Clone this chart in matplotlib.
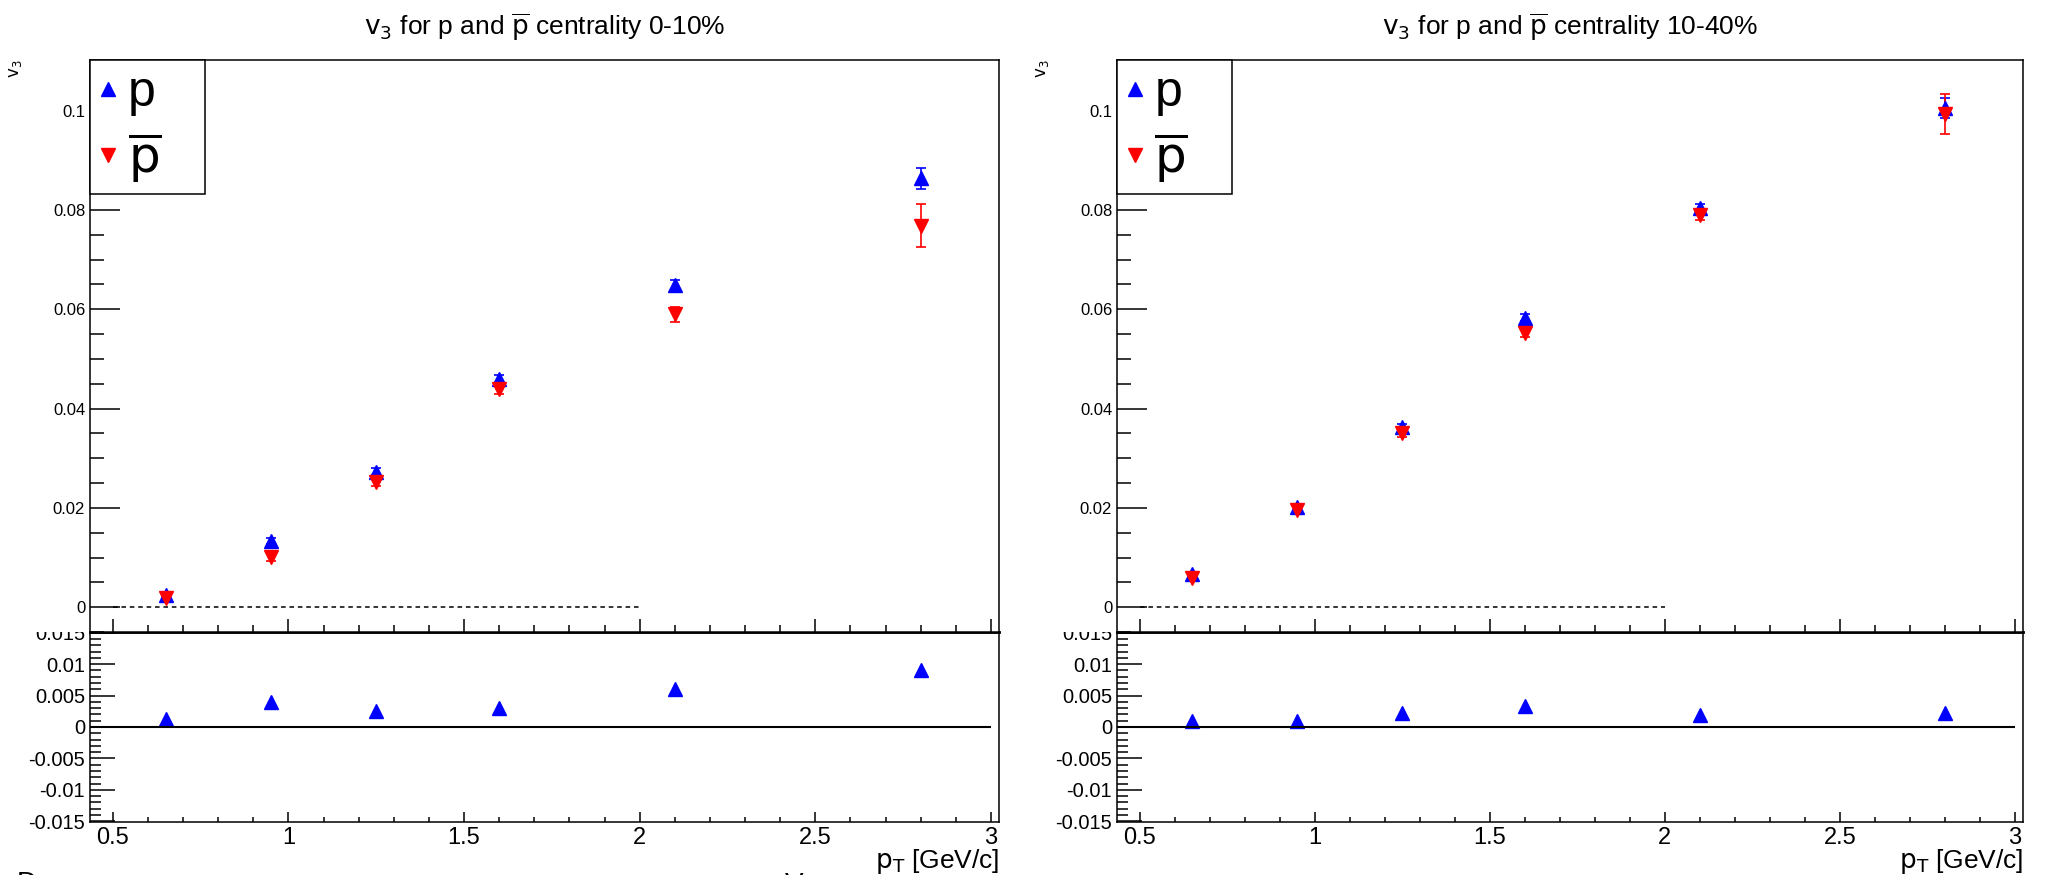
import matplotlib
matplotlib.use("Agg")
import matplotlib.pyplot as plt
from matplotlib.patches import Rectangle
from matplotlib.ticker import MultipleLocator, FuncFormatter

plt.rcParams['font.family'] = ['Liberation Sans Narrow', 'Liberation Sans', 'DejaVu Sans']
plt.rcParams['mathtext.fontset'] = 'custom'
plt.rcParams['mathtext.rm'] = 'Liberation Sans Narrow'
plt.rcParams['mathtext.it'] = 'Liberation Sans Narrow:italic'
plt.rcParams['axes.unicode_minus'] = False

# ---------------------------------------------------------
# Data
# ---------------------------------------------------------
pt = [0.65, 0.95, 1.25, 1.6, 2.1, 2.8]
centralities = ['0-10%', '10-40%']

v3_p_0_10 = [0.0024, 0.0133, 0.0273, 0.0459, 0.0648, 0.0864]
v3_p_0_10_err = [0.0006, 0.0006, 0.0007, 0.0008, 0.0010, 0.0021]
v3_pbar_0_10 = [0.0019, 0.0101, 0.0252, 0.0439, 0.0590, 0.0768]
v3_pbar_0_10_err = [0.0006, 0.0007, 0.0008, 0.0009, 0.0015, 0.0043]
diff_0_10 = [0.0013, 0.0039, 0.0026, 0.0030, 0.0061, 0.0090]

v3_p_10_40 = [0.0066, 0.0201, 0.0363, 0.0583, 0.0803, 0.1005]
v3_p_10_40_err = [0.0004, 0.0005, 0.0006, 0.0007, 0.0009, 0.0020]
v3_pbar_10_40 = [0.0058, 0.0195, 0.0350, 0.0553, 0.0790, 0.0993]
v3_pbar_10_40_err = [0.0005, 0.0006, 0.0007, 0.0008, 0.0010, 0.0040]
diff_10_40 = [0.0010, 0.0009, 0.0022, 0.0034, 0.0019, 0.0022]

panels = [
    (v3_p_0_10, v3_p_0_10_err, v3_pbar_0_10, v3_pbar_0_10_err, diff_0_10),
    (v3_p_10_40, v3_p_10_40_err, v3_pbar_10_40, v3_pbar_10_40_err, diff_10_40),
]

XLIM = (0.435, 3.023)
W, H = 2045, 875
lefts = [90 / W, 1117 / W]
widths = [909 / W, 906 / W]
split = (H - 632) / H
top_height = (632 - 60) / H
bot_bottom, bot_height = (H - 822) / H, (822 - 632) / H


def fmt(v, _):
    v = round(v, 6)
    return '0' if v == 0 else f'{v:g}'


def style_axis(ax, ymaj, ymin, ylen, xlen, ylab, xlab):
    ax.set_xlim(*XLIM)
    ax.xaxis.set_major_locator(MultipleLocator(0.5))
    ax.xaxis.set_minor_locator(MultipleLocator(0.1))
    ax.yaxis.set_major_locator(MultipleLocator(ymaj))
    ax.yaxis.set_minor_locator(MultipleLocator(ymin))
    ax.xaxis.set_major_formatter(FuncFormatter(fmt))
    ax.yaxis.set_major_formatter(FuncFormatter(fmt))
    ax.tick_params(axis='y', which='major', direction='in', length=ylen[0], width=1.1,
                   labelsize=ylab, pad=3.5, right=False)
    ax.tick_params(axis='y', which='minor', direction='in', length=ylen[1], width=1.1, right=False)
    ax.tick_params(axis='x', which='major', direction='in', length=xlen[0], width=1.1,
                   labelsize=xlab if xlab else 10, pad=3.5, top=False, labelbottom=bool(xlab))
    ax.tick_params(axis='x', which='minor', direction='in', length=xlen[1], width=1.1, top=False)
    for s in ax.spines.values():
        s.set_linewidth(1.1)


fig = plt.figure(figsize=(W / 100, H / 100), dpi=100)

for i, (p, p_err, pbar, pbar_err, diff) in enumerate(panels):
    left, width = lefts[i], widths[i]
    ax_top = fig.add_axes([left, split, width, top_height])
    ax_bot = fig.add_axes([left, bot_bottom, width, bot_height])
    ax_top.set_zorder(2)
    ax_bot.set_zorder(1)

    # upper pad: v3 of protons and antiprotons
    eb_p = ax_top.errorbar(pt, p, yerr=p_err, fmt='^', color='blue', ms=9.5,
                           elinewidth=1.2, capsize=3.5, capthick=1.2)
    eb_pbar = ax_top.errorbar(pt, pbar, yerr=pbar_err, fmt='v', color='red', ms=9.5,
                              elinewidth=1.2, capsize=3.5, capthick=1.2)
    ax_top.hlines(0, 0.5, 2.0, colors='black', linestyles=(0, (3, 2.5)), lw=1.1)
    ax_top.set_ylim(-0.005, 0.1102)
    style_axis(ax_top, 0.02, 0.005, (21.6, 10), (9.4, 5), 12, None)
    ax_top.spines['bottom'].set_linewidth(1.8)
    ax_top.set_title(r'$\mathrm{v}_{3}$ for p and $\overline{\mathrm{p}}$ centrality ' + centralities[i],
                     fontsize=19, pad=18)

    leg = ax_top.legend([eb_p[0], eb_pbar[0]], ['p', r'$\overline{\mathrm{p}}$'],
                        loc='upper left', bbox_to_anchor=(0, 1, 115 / (width * W), 0),
                        mode='expand', borderaxespad=0, fontsize=36, fancybox=False,
                        edgecolor='black', framealpha=1, borderpad=0.2,
                        labelspacing=0.28, handlelength=0.33, handletextpad=0.22)
    leg.get_frame().set_linewidth(1.1)
    leg.set_zorder(10)

    fig.text(left - 83 / W, 1 - 60 / H, r'$\mathrm{v}_{3}$', rotation=90,
             va='top', ha='left', fontsize=12)

    # lower pad: difference p - pbar
    ax_bot.plot(pt, diff, '^', color='blue', ms=9.5, ls='none')
    ax_bot.hlines(0, XLIM[0], 3.0, colors='black', lw=1.5)
    ax_bot.set_ylim(-0.0151, 0.0151)
    style_axis(ax_bot, 0.005, 0.001, (18, 8), (7.2, 3.6), 14.5, 17)
    ax_bot.spines['top'].set_linewidth(1.8)
    ax_bot.set_xlabel(r'$\mathrm{p}_{\mathrm{T}}$ [GeV/c]', loc='right', fontsize=19, labelpad=-1)

    # upper pad margin hides the top half of the first lower label
    fig.add_artist(Rectangle((left - 60 / W, split), 60 / W, 10 / H,
                             transform=fig.transFigure, facecolor='white',
                             edgecolor='none', zorder=1.5))

# slivers of text cut off at the bottom edge of the screenshot
fig.text(0.008, 4 / H, 'D', fontsize=20, va='top', ha='left')
fig.text(0.384, 3 / H, 'V', fontsize=20, va='top', ha='left')

fig.savefig('out.png', dpi=100, facecolor='white')
